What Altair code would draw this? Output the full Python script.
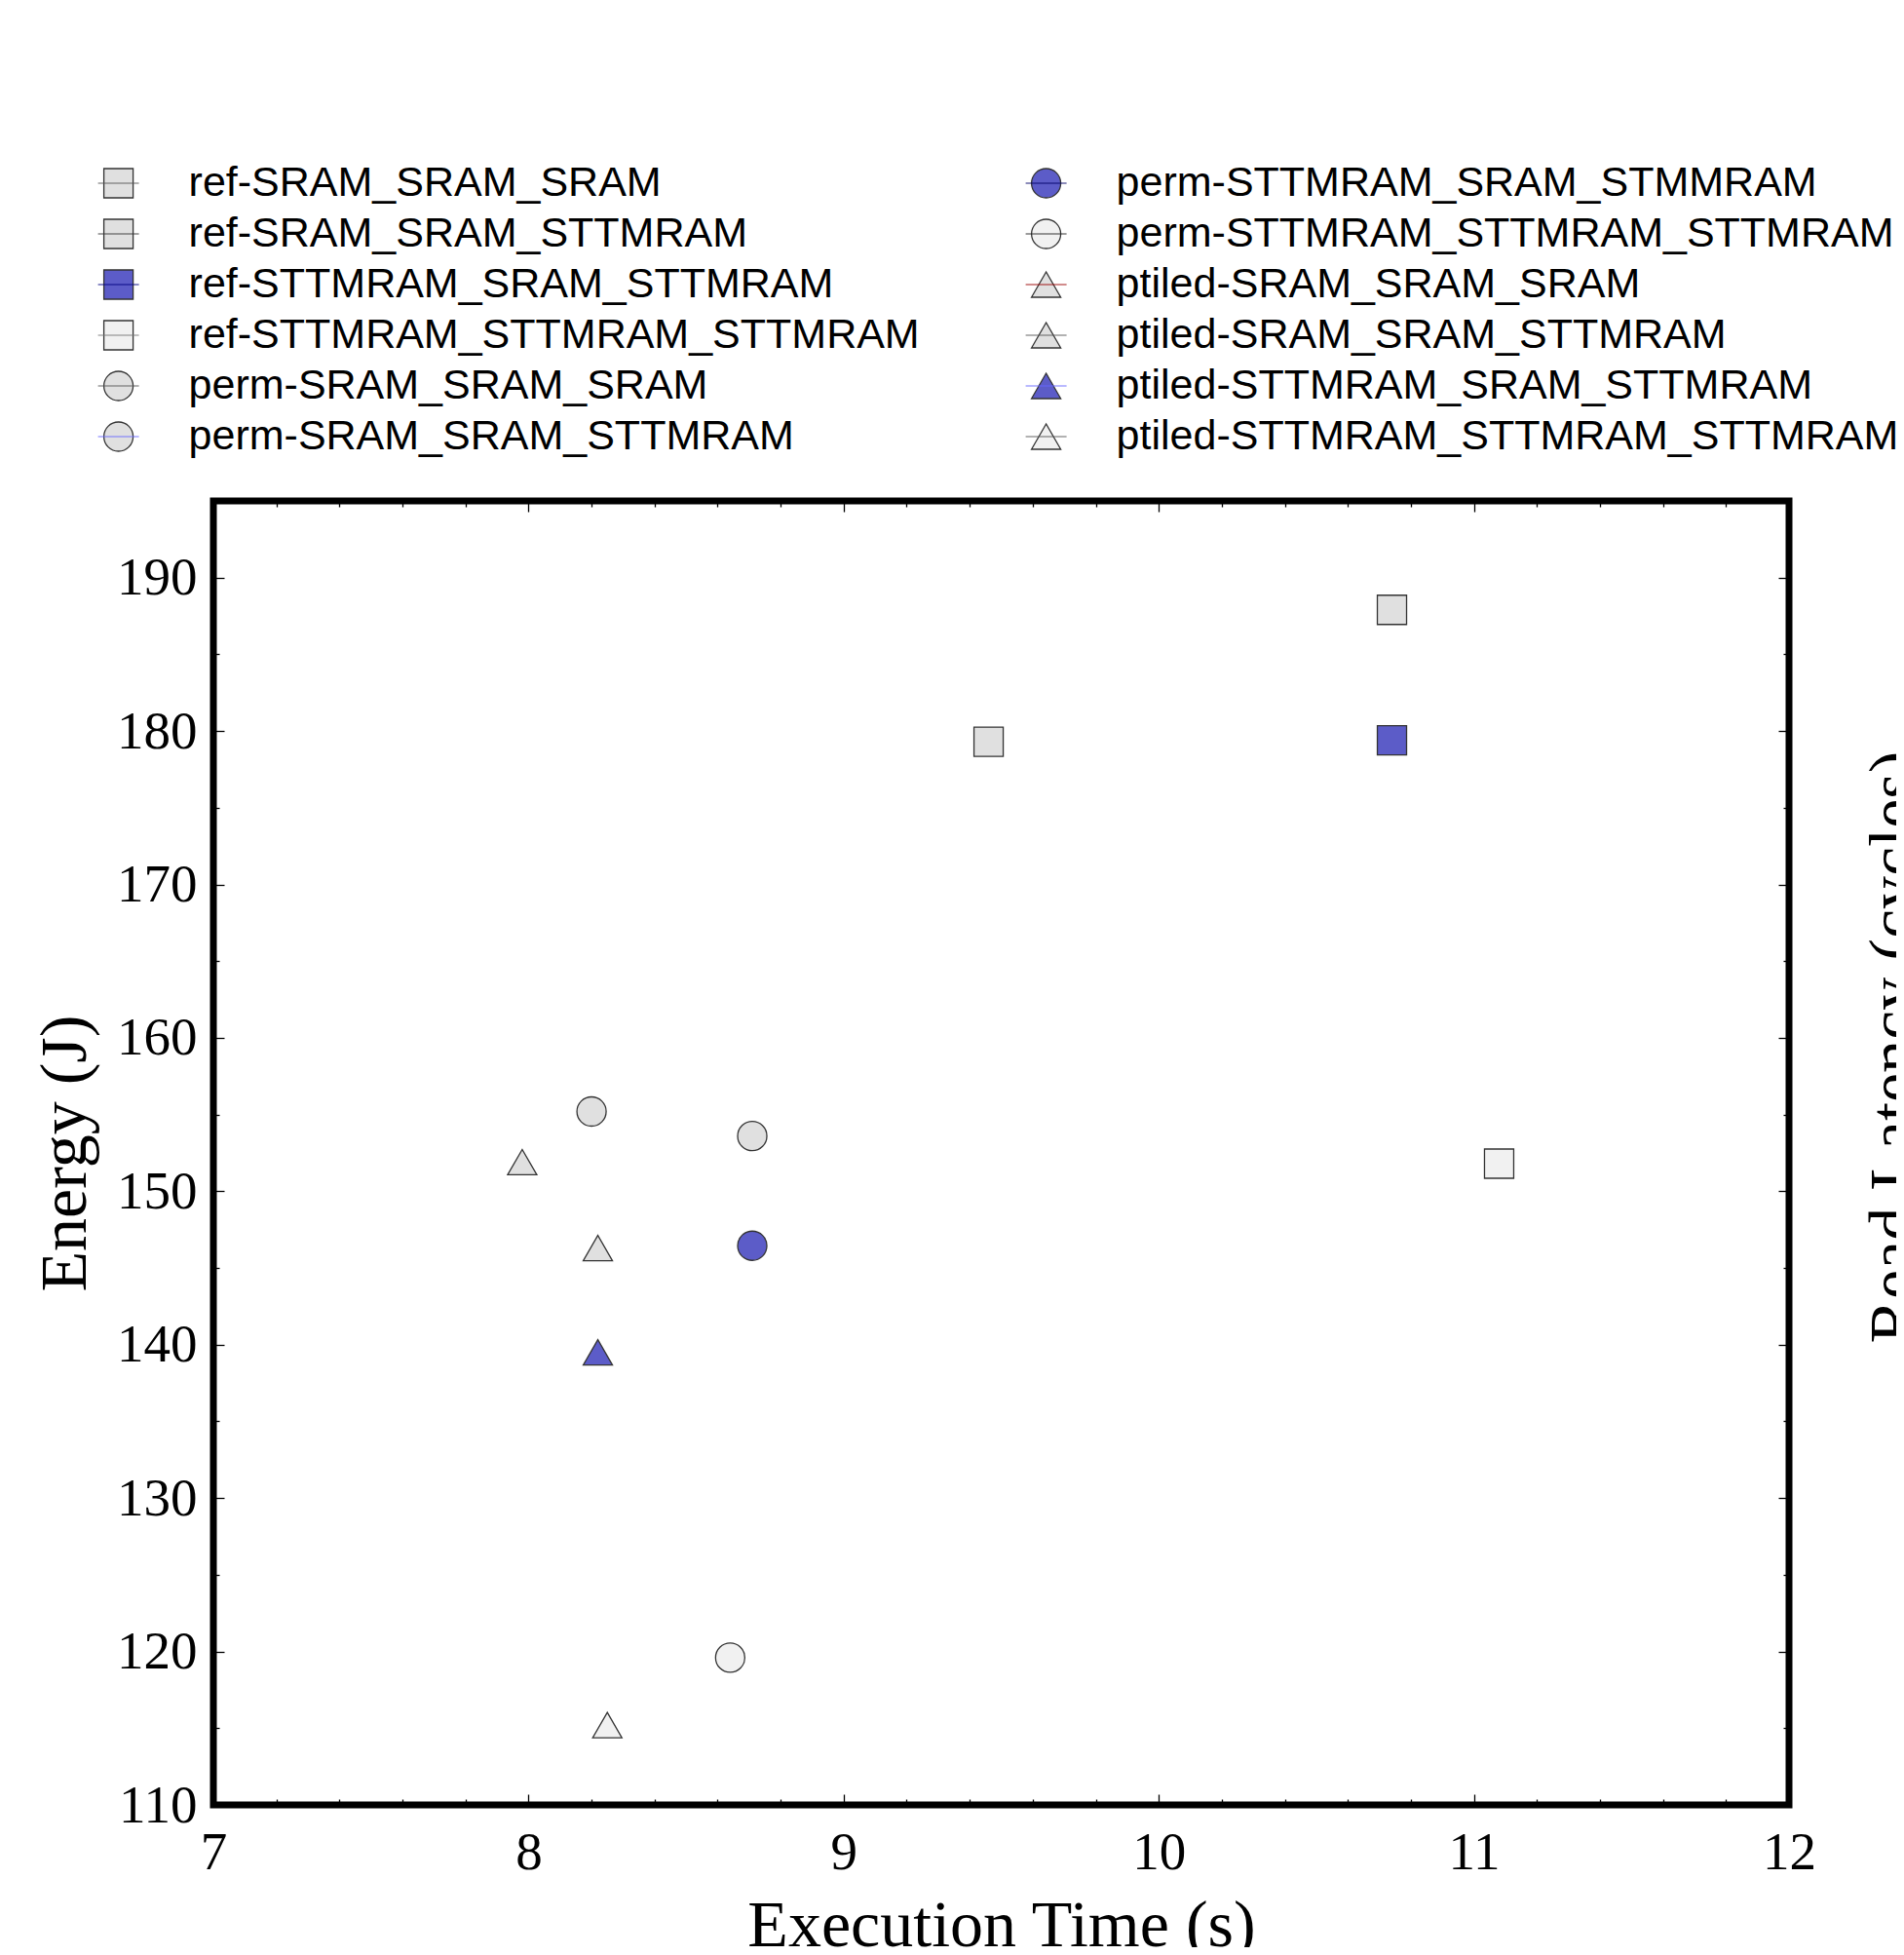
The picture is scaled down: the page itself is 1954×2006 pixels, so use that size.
import altair as alt
import pandas as pd

# ---------------- data ----------------
series = [
    "ref-SRAM_SRAM_SRAM",
    "ref-SRAM_SRAM_STTMRAM",
    "ref-STTMRAM_SRAM_STTMRAM",
    "ref-STTMRAM_STTMRAM_STTMRAM",
    "perm-SRAM_SRAM_SRAM",
    "perm-SRAM_SRAM_STTMRAM",
    "perm-STTMRAM_SRAM_STMMRAM",
    "perm-STTMRAM_STTMRAM_STTMRAM",
    "ptiled-SRAM_SRAM_SRAM",
    "ptiled-SRAM_SRAM_STTMRAM",
    "ptiled-STTMRAM_SRAM_STTMRAM",
    "ptiled-STTMRAM_STTMRAM_STTMRAM",
]
exec_time = [9.46, 10.74, 10.74, 11.08, 8.20, 8.71, 8.71, 8.64, 7.98, 8.22, 8.22, 8.25]
energy = [179.3, 187.9, 179.4, 151.8, 155.2, 153.6, 146.45, 119.6, 151.9, 146.3, 139.5, 115.2]

GRAY, BLUE, LIGHT = "#e0e0e0", "#5c5cc8", "#f1f1f1"
shapes = ["square"] * 4 + ["circle"] * 4 + ["triangle-up"] * 4
fills = [GRAY, GRAY, BLUE, LIGHT] * 3
line_colors = ["#555555", "#333333", "#000080", "#777777",
               "#555555", "#6666ff", "#000066", "#222222",
               "#990000", "#555555", "#6666ff", "#555555"]
line_widths = [1.5] * 10 + [3.5, 1.5]
legend_col = [0] * 6 + [1] * 6
legend_row = list(range(6)) * 2

x_major = [7, 8, 9, 10, 11, 12]
x_minor = [7.2, 7.4, 7.6, 7.8, 8.2, 8.4, 8.6, 8.8, 9.2, 9.4, 9.6, 9.8,
           10.2, 10.4, 10.6, 10.8, 11.2, 11.4, 11.6, 11.8]
y_major = [110, 120, 130, 140, 150, 160, 170, 180, 190]
y_minor = [115, 125, 135, 145, 155, 165, 175, 185, 195]

df = pd.DataFrame({"series": series, "time": exec_time, "energy": energy})
leg = pd.DataFrame({"series": series, "col": legend_col, "row": legend_row,
                    "line": line_colors, "lw": line_widths})

# ---------------- layout ----------------
W, H = 1617, 1338
X_DOM, Y_DOM = [7, 12], [110, 195]
MAJ, MIN = 11, 6
SERIF, SANS = "Liberation Serif", "Liberation Sans"

# legend grid (relative to plot origin)
LEG_X0, COL_STEP = -97.4, 952.0
LEG_Y0, ROW_STEP = -326.0, 52.0
lx0 = -LEG_X0 / COL_STEP
lx_scale = alt.Scale(domain=[lx0, lx0 + W / COL_STEP], nice=False, zero=False)
ly0 = -LEG_Y0 / ROW_STEP
ly_scale = alt.Scale(domain=[ly0, ly0 + H / ROW_STEP], nice=False, zero=False, reverse=True)


def xs():
    return alt.Scale(domain=X_DOM, nice=False, zero=False)


def ys():
    return alt.Scale(domain=Y_DOM, nice=False, zero=False)


def tick_axis(orient, values, size, **kw):
    return alt.Axis(orient=orient, values=values, tickSize=size, offset=-size,
                    domain=False, grid=False, ticks=True, tickColor="black",
                    tickWidth=1.3, **kw)


shape_scale = alt.Scale(domain=series, range=shapes)
fill_scale = alt.Scale(domain=series, range=fills)

base = alt.Chart(df)

points = base.mark_point(filled=True, size=900, stroke="#333333", strokeWidth=1.3,
                         opacity=1, fillOpacity=1).encode(
    x=alt.X("time:Q", scale=xs(), axis=tick_axis(
        "bottom", x_major, MAJ, labels=True, format="d", labelPadding=22,
        labelFlush=False,
        labelFont=SERIF, labelFontSize=55, labelColor="black",
        title="Execution Time (s)", titleFont=SERIF, titleFontSize=68,
        titleFontWeight="normal", titleColor="black", titlePadding=14)),
    y=alt.Y("energy:Q", scale=ys(), axis=tick_axis(
        "left", y_major, MAJ, labels=True, format="d", labelPadding=17,
        labelFlush=False,
        labelFont=SERIF, labelFontSize=55, labelColor="black",
        title="Energy (J)", titleFont=SERIF, titleFontSize=68,
        titleFontWeight="normal", titleColor="black", titlePadding=18)),
    shape=alt.Shape("series:N", scale=shape_scale, legend=None),
    fill=alt.Fill("series:N", scale=fill_scale, legend=None),
)

minor_bl = base.mark_point(opacity=0).encode(
    x=alt.X("time:Q", scale=xs(), title=None,
            axis=tick_axis("bottom", x_minor, MIN, labels=False)),
    y=alt.Y("energy:Q", scale=ys(), title=None,
            axis=tick_axis("left", y_minor, MIN, labels=False)),
)

major_tr = base.mark_point(opacity=0).encode(
    x=alt.X("time:Q", scale=xs(), title=None,
            axis=tick_axis("top", x_major, MAJ, labels=False)),
    y=alt.Y("energy:Q", scale=ys(),
            axis=tick_axis("right", y_major, MAJ, labels=False,
                           title="Read Latency (cycles)", titleFont=SERIF,
                           titleFontSize=68, titleFontWeight="normal",
                           titleColor="black", titleAngle=270,
                           titleBaseline="top", titleAlign="center",
                           titleY=560, titlePadding=74)),
)

minor_tr = base.mark_point(opacity=0).encode(
    x=alt.X("time:Q", scale=xs(), title=None,
            axis=tick_axis("top", x_minor, MIN, labels=False)),
    y=alt.Y("energy:Q", scale=ys(), title=None,
            axis=tick_axis("right", y_minor, MIN, labels=False)),
)

lbase = alt.Chart(leg)
lx = alt.X("col:Q", scale=lx_scale, axis=None)
ly = alt.Y("row:Q", scale=ly_scale, axis=None)

leg_pts = lbase.mark_point(filled=True, size=900, stroke="#333333", strokeWidth=1.3,
                           opacity=1, fillOpacity=1).encode(
    x=lx, y=ly,
    shape=alt.Shape("series:N", scale=shape_scale, legend=None),
    fill=alt.Fill("series:N", scale=fill_scale, legend=None),
)
leg_lines = lbase.mark_tick(orient="horizontal", size=42, opacity=0.9).encode(
    x=lx, y=ly,
    color=alt.Color("line:N", scale=None, legend=None),
    strokeWidth=alt.StrokeWidth("lw:Q", scale=None, legend=None),
)
leg_text = lbase.mark_text(align="left", baseline="middle", dx=72, font=SANS,
                           fontSize=43, color="black").encode(
    x=lx, y=ly, text="series:N",
)

chart = alt.layer(
    points, minor_bl, major_tr, minor_tr, leg_pts, leg_lines, leg_text
).resolve_scale(
    x="independent", y="independent"
).properties(
    width=W, height=H,
    autosize=alt.AutoSizeParams(type="none"),
    padding={"left": 211, "top": 506, "right": 110, "bottom": 146},
    background="white",
).configure_view(
    stroke="black", strokeWidth=7
)

chart.save("out.html", embed_options={"renderer": "svg", "actions": False})
